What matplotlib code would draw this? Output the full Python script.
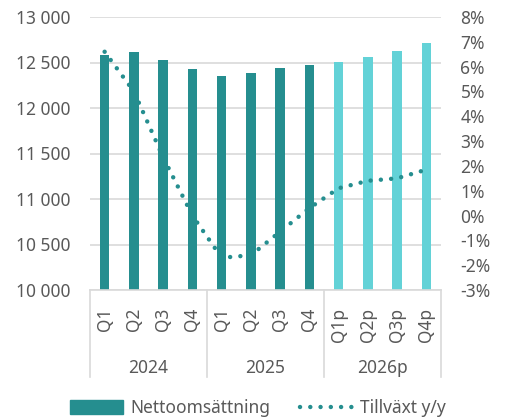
import numpy as np
import matplotlib
matplotlib.use("Agg")
import matplotlib.pyplot as plt
from matplotlib.patches import Patch
from matplotlib.lines import Line2D

plt.rcParams['font.family'] = ['Noto Sans', 'DejaVu Sans']

quarters = ["Q1", "Q2", "Q3", "Q4", "Q1", "Q2", "Q3", "Q4", "Q1p", "Q2p", "Q3p", "Q4p"]
years = ["2024", "2025", "2026p"]
sales = [12580, 12610, 12530, 12430, 12355, 12385, 12445, 12475, 12505, 12560, 12625, 12715]
growth = [6.6, 5.0, 2.35, 0.0, -1.7, -1.6, -0.65, 0.3, 1.1, 1.4, 1.5, 1.85]
is_forecast = [False] * 8 + [True] * 4

DARK = "#258E8F"
LIGHT = "#63D2D7"
GRID = "#D9D9D9"
TEXT = "#595959"

fig = plt.figure(figsize=(5.05, 4.19), dpi=100)
ax = fig.add_axes([90 / 505, 1 - 290 / 419, 351 / 505, 273 / 419])
ax2 = ax.twinx()

x = np.arange(len(quarters))
colors = [LIGHT if f else DARK for f in is_forecast]
ax.bar(x, sales, width=0.33, color=colors, zorder=2)
ax.set_xlim(-0.5, len(quarters) - 0.5)
ax.set_ylim(10000, 13000)
yt = np.arange(10000, 13001, 500)
ax.set_yticks(yt)
ax.set_yticklabels([f"{v:,}".replace(",", " ") for v in yt])
ax.grid(axis="y", color=GRID, linewidth=1.2, zorder=0)
ax.set_axisbelow(True)

ax.set_xticks(x)
ax.set_xticklabels(quarters, rotation=90)
ax.tick_params(axis="x", length=0, pad=13, labelsize=12.5, labelcolor=TEXT)
ax.tick_params(axis="y", length=0, pad=14, labelsize=12.5, labelcolor=TEXT)

for s in ["top", "left", "right"]:
    ax.spines[s].set_visible(False)
    ax2.spines[s].set_visible(False)
ax.spines["bottom"].set_color(GRID)
ax.spines["bottom"].set_linewidth(1.2)
ax2.spines["bottom"].set_visible(False)

# group separators and year labels
for b in [-0.5, 3.5, 7.5, 11.5]:
    ax.plot([b, b], [0, -0.32], transform=ax.get_xaxis_transform(), color=GRID,
            linewidth=1.2, clip_on=False)
for i, yr in enumerate(years):
    ax.text(i * 4 + 1.5, -0.285, yr, transform=ax.get_xaxis_transform(),
            ha="center", va="center", fontsize=12.5, color=TEXT)

ax2.plot(x, growth, color=DARK, linewidth=3.2, linestyle=(0, (0.01, 2.3)),
         dash_capstyle="round", zorder=3)
ax2.set_ylim(-3, 8)
pt = np.arange(-3, 9)
ax2.set_yticks(pt)
ax2.set_yticklabels([f"{v}%" for v in pt])
ax2.tick_params(axis="y", length=0, pad=14, labelsize=12.5, labelcolor=TEXT)

handles = [Patch(color=DARK),
           Line2D([0], [0], color=DARK, linewidth=3.2, linestyle=(0, (0.01, 2.3)),
                  dash_capstyle="round")]
fig.legend(handles, ["Nettoomsättning", "Tillväxt y/y"], loc="center",
           bbox_to_anchor=(258 / 505, 1 - 408 / 419), ncol=2, frameon=False,
           fontsize=12.5, labelcolor=TEXT, handlelength=3.0, handleheight=0.8,
           columnspacing=1.7, handletextpad=0.45)

fig.savefig("out.png", dpi=100)
